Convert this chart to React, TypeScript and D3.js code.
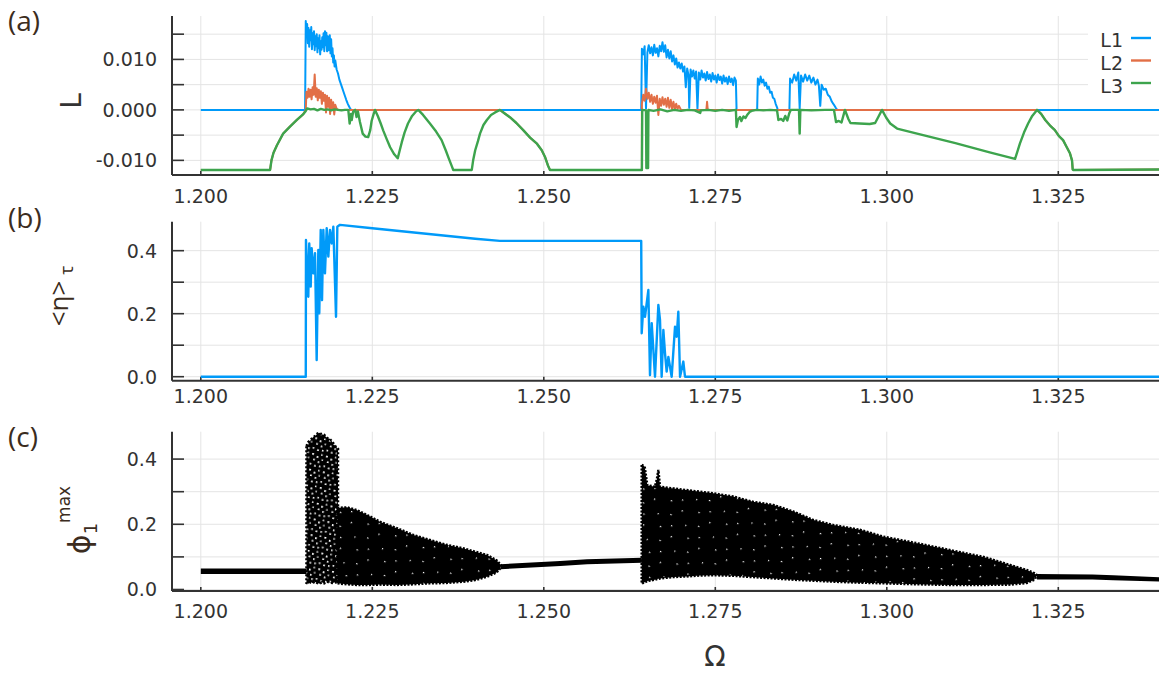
import React from 'react';
import * as d3 from 'd3';

type Pt = [number, number];
type Band = [number, number, number];

// shared x axis
const xTicks = [1.2, 1.225, 1.25, 1.275, 1.3, 1.325];
const xTickLabels = ['1.200', '1.225', '1.250', '1.275', '1.300', '1.325'];

// (a) Lyapunov exponents
const lTicks = [-0.01, 0, 0.01];
const lTickLabels = ['-0.010', '0.000', '0.010'];
const lMinor = [-0.005, 0.005, 0.015];

const L1: Pt[] = [
  [1.2, 0], [1.2152, 0],
  [1.2153, 0.0176], [1.2154, 0.0145], [1.2155, 0.017], [1.2156, 0.0132], [1.2157, 0.0162], [1.2158, 0.0125],
  [1.2159, 0.0158], [1.216, 0.0138], [1.2161, 0.0164], [1.2162, 0.012], [1.2163, 0.0152], [1.2164, 0.013],
  [1.2165, 0.0156], [1.2166, 0.0118], [1.2167, 0.0146], [1.2168, 0.0126], [1.2169, 0.015], [1.217, 0.0114],
  [1.2171, 0.0142], [1.2172, 0.0122], [1.2173, 0.0148], [1.2174, 0.011], [1.2175, 0.0136], [1.2176, 0.0119],
  [1.2177, 0.0144], [1.2178, 0.0124], [1.2179, 0.0152], [1.218, 0.0116], [1.2181, 0.0156], [1.2182, 0.0128],
  [1.2183, 0.0153], [1.2184, 0.0116], [1.2185, 0.0146], [1.2186, 0.0118], [1.2187, 0.0132], [1.2188, 0.0148],
  [1.2189, 0.0112], [1.219, 0.014], [1.2191, 0.0106], [1.2192, 0.0122], [1.2193, 0.0094], [1.2194, 0.0108],
  [1.2195, 0.0086], [1.2196, 0.0098], [1.2198, 0.008], [1.22, 0.0072], [1.2202, 0.006], [1.2204, 0.0052],
  [1.2206, 0.0044], [1.2208, 0.0036], [1.221, 0.0028], [1.2212, 0.002], [1.2214, 0.0013], [1.2216, 0.0007],
  [1.2218, 0.0002], [1.2219, 0],
  [1.2642, 0],
  [1.2643, 0.0121], [1.2645, 0.011], [1.2647, 0.0126], [1.2649, 0.0003], [1.2651, 0.0114], [1.2653, 0.0128],
  [1.2655, 0.0112], [1.2657, 0.0124], [1.2659, 0.0108], [1.2661, 0.0129], [1.2663, 0.0113], [1.2665, 0.0122],
  [1.2667, 0.0106], [1.2669, 0.0127], [1.2671, 0.0116], [1.2673, 0.0134], [1.2675, 0.0115], [1.2677, 0.0128],
  [1.2679, 0.0104], [1.2681, 0.0119], [1.2683, 0.0102], [1.2685, 0.0116], [1.2687, 0.0096], [1.2689, 0.0108],
  [1.2691, 0.009], [1.2693, 0.0102], [1.2695, 0.0084], [1.2697, 0.0094], [1.2699, 0.0082], [1.2701, 0.0092],
  [1.2703, 0.0076], [1.2705, 0.0086], [1.2707, 0.0045], [1.2709, 0.0082], [1.2711, 0.0068], [1.2712, 0.0004],
  [1.2714, 0.008], [1.2716, 0.0066], [1.2718, 0.0078], [1.272, 0.0062], [1.2722, 0.0076], [1.2724, 0.0002],
  [1.2726, 0.0074], [1.2728, 0.006], [1.273, 0.0078], [1.2732, 0.0064], [1.2734, 0.0072], [1.2736, 0.0058],
  [1.2738, 0.0075], [1.274, 0.0061], [1.2742, 0.007], [1.2744, 0.0056], [1.2746, 0.0073], [1.2748, 0.006],
  [1.275, 0.0068], [1.2752, 0.0054], [1.2754, 0.007], [1.2756, 0.0059], [1.2758, 0.0066], [1.276, 0.0052],
  [1.2762, 0.0068], [1.2764, 0.0056], [1.2766, 0.0064], [1.2768, 0.0051], [1.277, 0.0066], [1.2772, 0.0055],
  [1.2774, 0.0062], [1.2776, 0.0049], [1.2778, 0.0064], [1.278, 0.0058], [1.2781, 0],
  [1.2811, 0],
  [1.2812, 0.0062], [1.2814, 0.005], [1.2816, 0.0066], [1.2818, 0.0054], [1.282, 0.006], [1.2822, 0.0048],
  [1.2824, 0.0054], [1.2826, 0.0042], [1.2828, 0.0046], [1.283, 0.0034], [1.2832, 0.0036], [1.2834, 0.0024],
  [1.2836, 0.0022], [1.2838, 0.0012], [1.284, 0.0005], [1.2841, 0],
  [1.2858, 0],
  [1.2859, 0.0062], [1.2862, 0.0054], [1.2865, 0.007], [1.2868, 0.0058], [1.2871, 0.0074], [1.2873, 0.0003],
  [1.2875, 0.0068], [1.2878, 0.0056], [1.2881, 0.007], [1.2884, 0.0058], [1.2887, 0.0068], [1.289, 0.0054],
  [1.2893, 0.0064], [1.2896, 0.005], [1.2899, 0.006], [1.2901, 0.0048], [1.2903, 0.0008], [1.2905, 0.005],
  [1.2908, 0.004], [1.2911, 0.0042], [1.2914, 0.003], [1.2917, 0.0026], [1.292, 0.0016], [1.2923, 0.001],
  [1.2926, 0.0003], [1.2928, 0],
  [1.34, 0],
];

const L3: Pt[] = [
  [1.2, -0.0119], [1.2101, -0.0119], [1.2103, -0.01], [1.2106, -0.0085], [1.2111, -0.007], [1.212, -0.0047],
  [1.213, -0.0033], [1.214, -0.002], [1.2149, -0.0009], [1.2153, -0.0002],
  [1.2155, 0.0003], [1.216, 0.0001], [1.2165, 0.0002], [1.217, -0.0001], [1.2175, 0.0002], [1.218, 0],
  [1.2185, 0.0001], [1.219, -0.0001], [1.2195, 0.0001], [1.22, 0], [1.2205, -0.0001], [1.221, 0], [1.2215, 0],
  [1.2217, -0.0027], [1.2219, -0.0008], [1.222, -0.002], [1.2222, -0.0004], [1.2225, 0], [1.2227, -0.0014],
  [1.2229, -0.0003], [1.2232, -0.0024], [1.2236, -0.0047], [1.224, -0.0053], [1.2244, -0.0054], [1.2247, -0.004],
  [1.2249, -0.0022], [1.2252, -0.0008], [1.2254, 0],
  [1.2258, -0.0012], [1.2262, -0.0026], [1.2266, -0.0041], [1.2271, -0.0058], [1.2276, -0.0074], [1.2282, -0.0088],
  [1.2287, -0.0096], [1.229, -0.008], [1.2293, -0.0064], [1.2297, -0.0045], [1.2302, -0.0027], [1.2308, -0.0012],
  [1.2313, -0.0004], [1.2317, 0],
  [1.2324, -0.001], [1.2334, -0.0027], [1.2343, -0.0043], [1.2351, -0.006], [1.2357, -0.008], [1.2362, -0.0098],
  [1.2366, -0.0112], [1.2368, -0.0119], [1.2395, -0.0119],
  [1.2397, -0.01], [1.24, -0.008], [1.2404, -0.0062], [1.2407, -0.0047], [1.2412, -0.003], [1.2417, -0.002],
  [1.2423, -0.001], [1.2429, -0.0005], [1.2436, 0],
  [1.2443, -0.0007], [1.2451, -0.0015], [1.246, -0.0026], [1.247, -0.004], [1.248, -0.0055], [1.249, -0.0067],
  [1.2497, -0.008], [1.2502, -0.0094], [1.2506, -0.011], [1.2509, -0.0119], [1.2643, -0.0119],
  [1.26435, 0], [1.2649, -0.0001], [1.26495, -0.0115], [1.2652, -0.0115], [1.26525, 0],
  [1.266, -0.0002], [1.267, 0.0001], [1.268, -0.0003], [1.269, 0], [1.27, -0.0002], [1.271, 0], [1.272, -0.0001],
  [1.2728, -0.0006], [1.2729, -0.0001], [1.274, 0], [1.275, -0.0002], [1.276, 0], [1.277, -0.0002], [1.278, 0],
  [1.2781, -0.0034], [1.2783, -0.002], [1.2786, -0.0014], [1.2788, -0.0022], [1.2791, -0.0013], [1.2794, -0.0016],
  [1.2797, -0.0009], [1.28, -0.0004], [1.2803, -0.0002], [1.281, 0], [1.282, -0.0001], [1.283, 0], [1.284, -0.0001],
  [1.2842, -0.002], [1.2846, -0.0018], [1.2849, -0.0022], [1.2852, -0.0012], [1.2855, -0.0021], [1.2858, -0.0006],
  [1.286, 0], [1.2872, 0], [1.2873, -0.0047], [1.2874, 0], [1.289, -0.0001], [1.291, 0], [1.2923, 0],
  [1.2926, -0.0024], [1.293, -0.0022], [1.2934, -0.0025], [1.2939, 0], [1.2944, -0.0018], [1.2947, -0.0026],
  [1.296, -0.0027], [1.2975, -0.0028], [1.2983, -0.0026], [1.2988, -0.0013], [1.2993, 0],
  [1.2999, -0.0015], [1.3005, -0.0027], [1.3015, -0.0037], [1.305, -0.0049], [1.31, -0.0066], [1.315, -0.0084],
  [1.3187, -0.0097], [1.3194, -0.0067], [1.32, -0.0045], [1.3206, -0.0027], [1.3212, -0.0012], [1.3219, 0],
  [1.3225, -0.0008], [1.3231, -0.002], [1.3238, -0.0031], [1.3245, -0.004], [1.3251, -0.0052], [1.3257, -0.006],
  [1.3262, -0.0073], [1.3267, -0.0086], [1.327, -0.01], [1.3271, -0.0118], [1.3272, -0.0119], [1.34, -0.0118],
];

const L2burst1: Pt[] = [
  [1.2153, 0], [1.2154, 0.0036], [1.21555, 0.0024], [1.2157, 0.0042], [1.21585, 0.0026], [1.216, 0.004],
  [1.21615, 0.0021], [1.2163, 0.0045], [1.21645, 0.003], [1.2166, 0.007], [1.21675, 0.0026], [1.2169, 0.0043],
  [1.21705, 0.0019], [1.2172, 0.004], [1.21735, 0.0024], [1.2175, 0.0037], [1.21765, 0.0012], [1.2178, 0.0034],
  [1.21795, 0.0018], [1.2181, 0.003], [1.21825, -0.0005], [1.2184, 0.0028], [1.21855, 0.0006], [1.2187, 0.0024],
  [1.21885, -0.0008], [1.219, 0.002], [1.21915, 0.0003], [1.2193, 0.0015], [1.21945, -0.0009], [1.2196, 0.001],
  [1.2198, 0.0002], [1.22, 0], [1.2436, 0],
];
const L2burst2: Pt[] = [
  [1.2643, 0.0012], [1.2645, 0.003], [1.2647, 0.0018], [1.2649, 0.0042], [1.2651, 0.0022], [1.2653, 0.0034],
  [1.2655, 0.0016], [1.2657, 0.003], [1.2659, 0.0012], [1.2661, 0.0026], [1.2663, 0.0014], [1.2665, 0.0028],
  [1.2667, -0.001], [1.2669, 0.0022], [1.2671, 0.0008], [1.2673, 0.0025], [1.2675, 0.001], [1.2677, 0.0022],
  [1.2679, 0.0006], [1.2681, 0.0024], [1.2683, 0.0004], [1.2685, 0.002], [1.2687, 0.0002], [1.2689, 0.0016],
  [1.2691, 0.0001], [1.2693, 0.0012], [1.2695, 0.0002], [1.2697, 0.0008], [1.27, 0],
  [1.2737, 0], [1.2738, 0.0016], [1.2739, 0], [1.3219, 0],
];
// L2 coincides with L3 wherever the pair is complex
const L2: Pt[] = [
  ...L3.filter((p) => p[0] < 1.2153),
  ...L2burst1,
  ...L3.filter((p) => p[0] > 1.2436 && p[0] <= 1.2643),
  ...L2burst2,
  ...L3.filter((p) => p[0] > 1.3219),
];

// (b) <eta>_tau
const bTicks = [0, 0.2, 0.4];
const bTickLabels = ['0.0', '0.2', '0.4'];
const bMinor = [0.1, 0.3];

const eta: Pt[] = [
  [1.2, 0], [1.2153, 0],
  [1.21533, 0.434], [1.21567, 0.254], [1.21581, 0.423], [1.21602, 0.286], [1.21616, 0.408], [1.2164, 0.328],
  [1.21665, 0.392], [1.21689, 0.053], [1.21713, 0.402], [1.21727, 0.201], [1.21748, 0.466], [1.21767, 0.243],
  [1.21786, 0.466], [1.2181, 0.328], [1.21835, 0.471], [1.21859, 0.381], [1.21883, 0.466], [1.21908, 0.423],
  [1.21932, 0.476], [1.21971, 0.19], [1.2199, 0.476], [1.22029, 0.482],
  [1.225, 0.471], [1.23, 0.46], [1.235, 0.449], [1.24, 0.438], [1.2436, 0.431], [1.2642, 0.431],
  [1.26427, 0.138], [1.26451, 0.222], [1.26475, 0.19], [1.26524, 0.275], [1.26548, 0.005], [1.26573, 0.17],
  [1.26597, 0.085], [1.26621, 0], [1.2667, 0.228], [1.26694, 0.18], [1.26718, 0], [1.26743, 0.148],
  [1.26767, 0.074], [1.26791, 0.016], [1.26816, 0.063], [1.26864, 0], [1.26913, 0.159], [1.26937, 0.127],
  [1.26961, 0.206], [1.26986, 0], [1.27034, 0.048], [1.27058, 0],
  [1.34, 0],
];

// (c) phi_1^max : periodic branches and chaotic bands [omega, lower, upper]
const cTicks = [0, 0.2, 0.4];
const cTickLabels = ['0.0', '0.2', '0.4'];
const cMinor = [0.1, 0.3];

const phiBranch1: Pt[] = [[1.2, 0.056], [1.2154, 0.056]];
const phiBranch2: Pt[] = [[1.2437, 0.07], [1.2524, 0.08], [1.2563, 0.085], [1.2643, 0.09]];
const phiBranch3a: Pt[] = [[1.3219, 0.042], [1.33, 0.041], [1.333, 0.038], [1.34, 0.032]];
const phiBranch3b: Pt[] = [[1.3219, 0.036], [1.33, 0.036], [1.333, 0.034], [1.34, 0.03]];

const phiTower: Band[] = [
  [1.2154, 0.02, 0.44], [1.21567, 0.018, 0.452], [1.216, 0.022, 0.458], [1.2163, 0.019, 0.466],
  [1.2166, 0.024, 0.47], [1.217, 0.02, 0.478], [1.2173, 0.018, 0.481], [1.2176, 0.022, 0.476],
  [1.218, 0.019, 0.474], [1.2184, 0.024, 0.465], [1.2188, 0.021, 0.462], [1.2192, 0.02, 0.452],
  [1.2196, 0.022, 0.44], [1.22, 0.02, 0.432],
];
const phiLobe: Band[] = [
  [1.2199, 0.019, 0.25], [1.2213, 0.016, 0.252], [1.2227, 0.014, 0.244], [1.2242, 0.014, 0.229],
  [1.2261, 0.015, 0.208], [1.2286, 0.014, 0.188], [1.231, 0.016, 0.167], [1.2334, 0.019, 0.152],
  [1.2358, 0.02, 0.137], [1.2383, 0.024, 0.126], [1.24, 0.029, 0.116], [1.2417, 0.039, 0.106],
  [1.2431, 0.052, 0.09], [1.2437, 0.066, 0.076],
];
const phiBand2: Band[] = [
  [1.26427, 0.018, 0.382], [1.2647, 0.022, 0.377], [1.26509, 0.026, 0.32], [1.2662, 0.03, 0.315],
  [1.2665, 0.032, 0.34], [1.2667, 0.033, 0.367], [1.26694, 0.034, 0.315], [1.2689, 0.038, 0.31],
  [1.2708, 0.04, 0.305], [1.2728, 0.043, 0.3], [1.2747, 0.044, 0.295], [1.2776, 0.042, 0.285],
  [1.2805, 0.038, 0.269], [1.2835, 0.034, 0.259], [1.2864, 0.03, 0.239], [1.2893, 0.027, 0.213],
  [1.2922, 0.024, 0.198], [1.2961, 0.021, 0.183], [1.2995, 0.019, 0.162], [1.3044, 0.016, 0.142],
  [1.3092, 0.014, 0.121], [1.3141, 0.014, 0.1], [1.318, 0.015, 0.075], [1.3204, 0.02, 0.06],
  [1.3215, 0.03, 0.05], [1.3219, 0.042, 0.044],
];

const W = 1159;
const H = 677;
const LEFT = 172;
const RIGHT = 1190; // the original plot runs past the cropped right edge

const x = d3.scaleLinear().domain([1.1958, 1.3442]).range([LEFT, RIGHT]);
const yA = d3.scaleLinear().domain([-0.0129, 0.0186]).range([175, 16]);
const yB = d3.scaleLinear().domain([-0.0127, 0.492]).range([380.7, 221.7]);
const yC = d3.scaleLinear().domain([-0.0046, 0.484]).range([591, 431.7]);

const BLUE = '#009af9';
const ORANGE = '#e26f46';
const GREEN = '#3da44d';
const AXIS = '#333';
const GRID = '#e4e4e4';
const TICK_FONT = '"DejaVu Sans", sans-serif';
const NOTE_FONT = '"Open Sans", "DejaVu Sans", sans-serif';
const NOTE_COLOR = '#3b2c20';

// irregular white flecks for the chaotic point clouds
const denseFlecks = [
  [3, 2, 1.4, 1.2], [17, 7, 1.2, 1.4], [8, 15, 1.5, 1.1], [26, 19, 1.1, 1.3], [13, 25, 1.3, 1.2],
];
const lightFlecks = [
  [1, 1, 2, 1.6], [6, 3, 1.6, 2], [10, 0.5, 1.5, 1.5], [3, 6.5, 1.8, 1.5], [8, 8, 1.5, 1.8],
  [11.5, 5.5, 1.4, 1.4], [0.5, 11, 1.6, 1.6], [5, 12.5, 2, 1.4], [10, 12, 1.5, 1.7],
];

function Frame({
  y, ticks, labels, minor, labelY,
}: {
  y: d3.ScaleLinear<number, number>;
  ticks: number[];
  labels: string[];
  minor: number[];
  labelY: number;
}) {
  const [bottom, top] = y.range();
  const all = [...ticks, ...minor];
  return (
    <g>
      {all.map((t) => (
        <line key={'h' + t} x1={LEFT} x2={W} y1={y(t)} y2={y(t)} stroke={GRID} strokeWidth={1} />
      ))}
      {xTicks.map((t) => (
        <line key={'v' + t} x1={x(t)} x2={x(t)} y1={top} y2={bottom} stroke={GRID} strokeWidth={1} />
      ))}
      <line x1={LEFT} x2={LEFT} y1={top} y2={bottom} stroke={AXIS} strokeWidth={2} />
      <line x1={LEFT} x2={W} y1={bottom} y2={bottom} stroke={AXIS} strokeWidth={2} />
      {all.map((t) => (
        <line key={'t' + t} x1={LEFT} x2={LEFT + 12} y1={y(t)} y2={y(t)} stroke={AXIS} strokeWidth={1.6} />
      ))}
      {ticks.map((t, i) => (
        <text key={'l' + t} x={157} y={y(t)} dy="0.36em" textAnchor="end" fontSize={19}
          fontFamily={TICK_FONT} fill="#333">{labels[i]}</text>
      ))}
      {xTicks.map((t, i) => (
        <g key={'x' + t}>
          <line x1={x(t)} x2={x(t)} y1={bottom} y2={bottom - 4} stroke={AXIS} strokeWidth={1.6} />
          <text x={x(t)} y={labelY} textAnchor="middle" fontSize={19} fontFamily={TICK_FONT}
            fill="#333">{xTickLabels[i]}</text>
        </g>
      ))}
    </g>
  );
}

export default function App() {
  const lineA = d3.line<Pt>().x((d) => x(d[0])).y((d) => yA(d[1]));
  const lineB = d3.line<Pt>().x((d) => x(d[0])).y((d) => yB(d[1]));
  const lineC = d3.line<Pt>().x((d) => x(d[0])).y((d) => yC(d[1]));
  const bandC = d3.area<Band>().x((d) => x(d[0])).y0((d) => yC(d[1])).y1((d) => yC(d[2]));

  const legend = [
    { name: 'L1', color: BLUE },
    { name: 'L2', color: ORANGE },
    { name: 'L3', color: GREEN },
  ];

  return (
    <svg width={W} height={H} style={{ position: 'absolute', left: 0, top: 0, background: '#fff' }}>
      <defs>
        <clipPath id="plotClip">
          <rect x={LEFT} y={0} width={W - LEFT} height={H} />
        </clipPath>
        <pattern id="speckDense" width={30} height={28} patternUnits="userSpaceOnUse"
          patternTransform="rotate(23)">
          <rect width={30} height={28} fill="#000" />
          {denseFlecks.map((f, i) => (
            <rect key={i} x={f[0]} y={f[1]} width={f[2]} height={f[3]} fill="#fff" />
          ))}
        </pattern>
        <pattern id="speckLight" width={14} height={16} patternUnits="userSpaceOnUse"
          patternTransform="rotate(11)">
          <rect width={14} height={16} fill="#000" />
          {lightFlecks.map((f, i) => (
            <rect key={i} x={f[0]} y={f[1]} width={f[2]} height={f[3]} fill="#fff" />
          ))}
        </pattern>
      </defs>

      {/* (a) */}
      <Frame y={yA} ticks={lTicks} labels={lTickLabels} minor={lMinor} labelY={203} />
      <g clipPath="url(#plotClip)" fill="none" strokeLinejoin="round">
        <path d={lineA(L1) || ''} stroke={BLUE} strokeWidth={2} />
        <path d={lineA(L2) || ''} stroke={ORANGE} strokeWidth={2} />
        <path d={lineA(L3) || ''} stroke={GREEN} strokeWidth={2.4} />
      </g>
      <rect x={1088} y={25} width={75} height={72} fill="#fff" />
      {legend.map((d, i) => (
        <g key={d.name}>
          <text x={1123} y={47 + i * 23} textAnchor="end" fontSize={19} fontFamily={TICK_FONT}
            fill="#333">{d.name}</text>
          <line x1={1131} x2={1151} y1={38 + i * 22.5} y2={38 + i * 22.5} stroke={d.color} strokeWidth={2.4} />
        </g>
      ))}
      <text transform="translate(81,101) rotate(-90)" textAnchor="middle" fontSize={28}
        fontFamily={TICK_FONT} fill="#333">L</text>
      <text x={8} y={31} fontSize={28} fontFamily={NOTE_FONT} fill={NOTE_COLOR}>(a)</text>

      {/* (b) */}
      <Frame y={yB} ticks={bTicks} labels={bTickLabels} minor={bMinor} labelY={403} />
      <g clipPath="url(#plotClip)" fill="none" strokeLinejoin="round">
        <path d={lineB(eta) || ''} stroke={BLUE} strokeWidth={2.4} />
      </g>
      <text transform="translate(68,296) rotate(-90)" textAnchor="middle" fontSize={26}
        fontFamily={NOTE_FONT} fill={NOTE_COLOR}>
        &lt;η&gt;<tspan dx={6} dy={5} fontSize={19}>τ</tspan>
      </text>
      <text x={8} y={228} fontSize={28} fontFamily={NOTE_FONT} fill={NOTE_COLOR}>(b)</text>

      {/* (c) */}
      <Frame y={yC} ticks={cTicks} labels={cTickLabels} minor={cMinor} labelY={618} />
      <g clipPath="url(#plotClip)">
        <path d={bandC(phiTower) || ''} fill="url(#speckLight)" stroke="#000" strokeWidth={2.5}
          strokeDasharray="2 2" />
        <path d={bandC(phiLobe) || ''} fill="url(#speckDense)" stroke="#000" strokeWidth={2.5}
          strokeDasharray="2 1.5" />
        <path d={bandC(phiBand2) || ''} fill="url(#speckDense)" stroke="#000" strokeWidth={2.5}
          strokeDasharray="2 1.5" />
        <g fill="none" stroke="#000">
          <path d={lineC(phiBranch1) || ''} strokeWidth={5.5} />
          <path d={lineC(phiBranch2) || ''} strokeWidth={5} />
          <path d={lineC(phiBranch3a) || ''} strokeWidth={3.5} />
          <path d={lineC(phiBranch3b) || ''} strokeWidth={3.5} />
        </g>
      </g>
      <text transform="translate(90,520) rotate(-90)" textAnchor="middle" fontSize={30}
        fontFamily={TICK_FONT} fill={NOTE_COLOR}>
        ϕ<tspan dy={7} fontSize={18}>1</tspan><tspan dy={-27} fontSize={17}>max</tspan>
      </text>
      <text x={8} y={447} fontSize={28} fontFamily={NOTE_FONT} fill={NOTE_COLOR}>(c)</text>

      <text x={715} y={666} textAnchor="middle" fontSize={28} fontFamily={TICK_FONT} fill="#333">Ω</text>
    </svg>
  );
}
